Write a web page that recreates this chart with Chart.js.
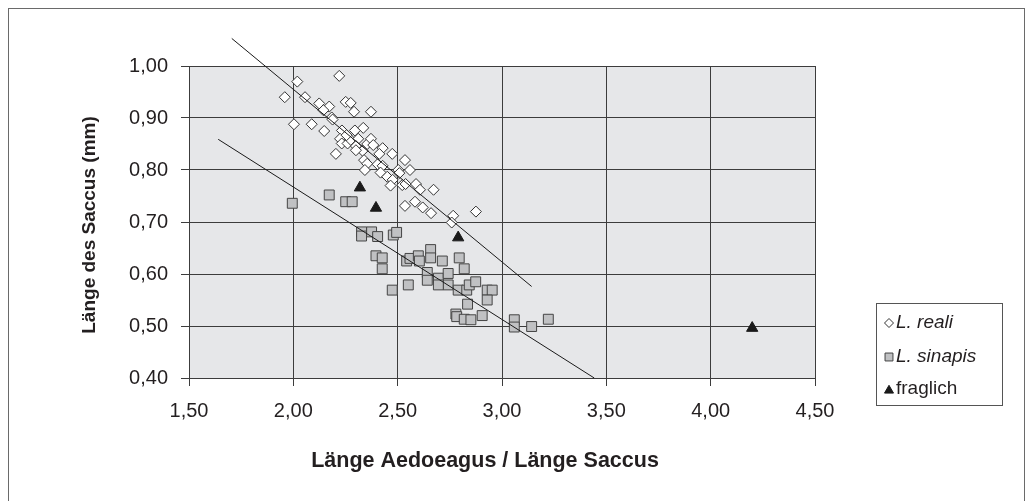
<!DOCTYPE html>
<html><head><meta charset="utf-8">
<script src="https://cdn.jsdelivr.net/npm/chart.js@4.4.0/dist/chart.umd.min.js"></script>
<style>html,body{margin:0;padding:0;background:#fff;overflow:hidden}</style>
</head><body>
<canvas id="c" width="1027" height="501" style="display:block;width:1027px;height:501px"></canvas>
<script>
// ---- data ----
const xTicks = [1.5, 2.0, 2.5, 3.0, 3.5, 4.0, 4.5];
const yTicks = [0.4, 0.5, 0.6, 0.7, 0.8, 0.9, 1.0];
const seriesNames = ['L. reali', 'L. sinapis', 'fraglich'];
const xTitle = 'Länge Aedoeagus / Länge Saccus';
const yTitle = 'Länge des Saccus (mm)';

const realiX = [2.220,2.019,1.959,2.056,2.124,2.172,2.144,2.184,2.188,2.251,2.275,2.291,2.372,2.003,2.088,2.148,2.233,2.295,2.335,2.224,2.232,2.260,2.275,2.311,2.300,2.354,2.372,2.383,2.204,2.332,2.339,2.354,2.343,2.428,2.412,2.474,2.535,2.404,2.428,2.418,2.450,2.476,2.466,2.503,2.508,2.559,2.522,2.538,2.588,2.607,2.672,2.535,2.583,2.620,2.660,2.766,2.759,2.875,2.255,2.300];
const realiY = [0.981,0.970,0.940,0.940,0.928,0.922,0.915,0.901,0.897,0.931,0.929,0.912,0.912,0.888,0.888,0.875,0.876,0.876,0.881,0.860,0.851,0.851,0.858,0.860,0.846,0.850,0.860,0.848,0.831,0.837,0.819,0.812,0.800,0.842,0.831,0.831,0.819,0.811,0.808,0.795,0.787,0.781,0.770,0.800,0.794,0.800,0.771,0.773,0.773,0.762,0.762,0.731,0.739,0.728,0.717,0.712,0.699,0.720,0.867,0.838];

const sinapisX = [1.995,2.172,2.251,2.282,2.327,2.327,2.375,2.404,2.479,2.495,2.396,2.426,2.426,2.474,2.551,2.543,2.559,2.599,2.604,2.658,2.658,2.714,2.795,2.819,2.642,2.642,2.695,2.742,2.742,2.695,2.790,2.831,2.843,2.874,2.929,2.953,2.929,2.835,2.779,2.783,2.819,2.851,2.905,3.059,3.059,3.142,3.222];
const sinapisY = [0.736,0.752,0.739,0.739,0.681,0.673,0.681,0.672,0.675,0.680,0.635,0.631,0.610,0.569,0.579,0.625,0.630,0.635,0.625,0.647,0.631,0.625,0.631,0.610,0.603,0.588,0.592,0.601,0.579,0.579,0.569,0.569,0.579,0.585,0.569,0.569,0.550,0.542,0.523,0.518,0.513,0.512,0.520,0.512,0.498,0.499,0.513];

const fraglichX = [2.319, 2.396, 2.790, 4.199];
const fraglichY = [0.766, 0.727, 0.670, 0.496];

// trend lines (start / end)
const trendRealiX = [1.705, 3.142];
const trendRealiY = [1.053, 0.576];
const trendSinapisX = [1.640, 3.442];
const trendSinapisY = [0.859, 0.400];

const pts = (xs, ys) => xs.map((x, i) => ({x: x, y: ys[i]}));
const fmt = v => (Math.round(v * 100) / 100).toFixed(2).replace('.', ',');
const FONT = "'Liberation Sans', Arial, sans-serif";
const GRID = '#3c3c3c';
const TEXT = '#231f20';

const bgPlugin = {
  id: 'bg',
  beforeDraw(chart) {
    const {ctx, chartArea: a} = chart;
    ctx.save();
    ctx.fillStyle = '#ffffff';
    ctx.fillRect(0, 0, chart.width, chart.height);
    ctx.fillStyle = '#e6e7e9';
    ctx.fillRect(a.left, a.top, a.right - a.left, a.bottom - a.top);
    ctx.strokeStyle = '#6a6a6a';
    ctx.lineWidth = 1;
    ctx.strokeRect(8.5, 8.5, 1016, 600);
    ctx.restore();
  }
};

const titlesPlugin = {
  id: 'axisTitles',
  afterDraw(chart) {
    const ctx = chart.ctx;
    ctx.save();
    ctx.fillStyle = TEXT;
    ctx.textAlign = 'center';
    ctx.textBaseline = 'middle';
    ctx.font = 'bold 21.5px ' + FONT;
    ctx.fillText(xTitle, 485, 461);
    ctx.translate(90, 225);
    ctx.rotate(-Math.PI / 2);
    ctx.font = 'bold 19px ' + FONT;
    ctx.fillText(yTitle, 0, 0);
    ctx.restore();
  }
};

const legendPlugin = {
  id: 'customLegend',
  afterDraw(chart) {
    const ctx = chart.ctx;
    ctx.save();
    ctx.strokeStyle = '#555';
    ctx.lineWidth = 1;
    ctx.strokeRect(876.5, 303.5, 126, 102);
    const rows = [323, 357, 389];
    const styles = [
      {pointStyle: 'rectRot', radius: 4.5, fill: '#ffffff', stroke: '#333', bw: 1, font: 'italic 19px ' + FONT},
      {pointStyle: 'rect', radius: 5.6, fill: '#c0c1c3', stroke: '#444', bw: 1, font: 'italic 19px ' + FONT},
      {pointStyle: 'triangle', radius: 5.2, fill: '#1a1a1a', stroke: '#1a1a1a', bw: 1, font: '19px ' + FONT}
    ];
    styles.forEach((s, i) => {
      ctx.fillStyle = s.fill;
      ctx.strokeStyle = s.stroke;
      ctx.lineWidth = s.bw;
      Chart.helpers.drawPoint(ctx, {pointStyle: s.pointStyle, radius: s.radius, rotation: 0, borderWidth: s.bw}, 889, rows[i] + (i === 2 ? 1.5 : 0));
      ctx.fillStyle = TEXT;
      ctx.font = s.font;
      ctx.textBaseline = 'middle';
      ctx.textAlign = 'left';
      ctx.fillText(seriesNames[i], 896, rows[i]);
    });
    ctx.restore();
  }
};

new Chart(document.getElementById('c'), {
  type: 'scatter',
  data: {
    datasets: [
      {label: 'trend reali', data: pts(trendRealiX, trendRealiY), showLine: true, pointRadius: 0, borderColor: '#1a1a1a', borderWidth: 1, clip: false, fill: false},
      {label: 'trend sinapis', data: pts(trendSinapisX, trendSinapisY), showLine: true, pointRadius: 0, borderColor: '#1a1a1a', borderWidth: 1, clip: false, fill: false},
      {label: seriesNames[2], data: pts(fraglichX, fraglichY), pointStyle: 'triangle', pointRadius: 6.5, backgroundColor: '#1a1a1a', borderColor: '#1a1a1a', borderWidth: 1, clip: false},
      {label: seriesNames[1], data: pts(sinapisX, sinapisY), pointStyle: 'rect', pointRadius: 7, backgroundColor: '#c0c1c3', borderColor: '#444', borderWidth: 1},
      {label: seriesNames[0], data: pts(realiX, realiY), pointStyle: 'rectRot', pointRadius: 5.5, backgroundColor: '#ffffff', borderColor: '#333', borderWidth: 1}
    ]
  },
  options: {
    responsive: false,
    animation: false,
    devicePixelRatio: 1,
    layout: {padding: {left: 0, top: 66, right: 212, bottom: 0}},
    plugins: {legend: {display: false}, tooltip: {enabled: false}},
    elements: {point: {hoverRadius: 0}},
    scales: {
      x: {
        type: 'linear', min: 1.5, max: 4.5,
        afterBuildTicks: s => { s.ticks = xTicks.map(v => ({value: v})); },
        afterFit: s => { s.height = 123; },
        grid: {color: GRID, lineWidth: 1, tickLength: 8, tickColor: GRID},
        border: {display: true, color: GRID},
        ticks: {callback: v => fmt(v), color: TEXT, font: {family: FONT, size: 20}, padding: 13, maxRotation: 0},
        title: {display: false}
      },
      y: {
        type: 'linear', min: 0.4, max: 1.0,
        afterBuildTicks: s => { s.ticks = yTicks.map(v => ({value: v})); },
        afterFit: s => { s.width = 189; },
        grid: {color: GRID, lineWidth: 1, tickLength: 8, tickColor: GRID},
        border: {display: true, color: GRID},
        ticks: {callback: v => fmt(v), color: TEXT, font: {family: FONT, size: 20}, padding: 13},
        title: {display: false}
      }
    }
  },
  plugins: [bgPlugin, titlesPlugin, legendPlugin]
});
</script>
</body></html>
